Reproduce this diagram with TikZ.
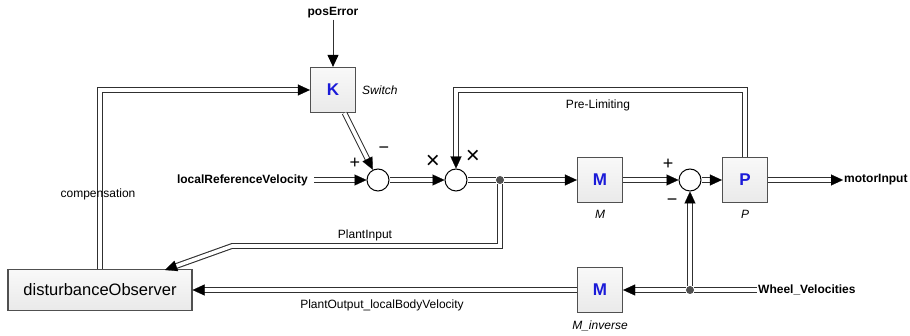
\documentclass[tikz,border=0pt]{standalone}
\usepackage{fontspec}
\setmainfont{Liberation Sans}
\usetikzlibrary{arrows.meta,calc}
\definecolor{lc}{HTML}{303030}
\definecolor{bc}{HTML}{505050}
\definecolor{kb}{HTML}{1A1AD8}
\tikzset{
  dl/.style={draw=lc, line width=1.1pt, double=white, double distance=3.6pt},
  tipl/.style={draw=white, line width=0.2pt, -{Triangle[length=12pt,width=11pt,color=black]}},
  sl/.style={draw=lc, line width=1pt, -{Triangle[length=12pt,width=11pt,color=black]}},
  blk/.style={draw=bc, line width=1.2pt, top color=gray!5, bottom color=gray!17, minimum width=45pt, minimum height=45pt, inner sep=0pt, font=\fontsize{17}{20}\selectfont\bfseries\color{kb}},
  dobox/.style={draw=bc, line width=1.2pt, top color=gray!5, bottom color=gray!17, minimum width=184pt, minimum height=41pt, inner sep=0pt, font=\fontsize{16.5}{20}\selectfont},
  sumc/.style={circle, draw=black, line width=1pt, fill=white, minimum size=22pt, inner sep=0pt},
  junc/.style={circle, fill=lc!85, minimum size=8pt, inner sep=0pt},
  lbl/.style={font=\fontsize{12}{14}\selectfont, inner sep=1pt},
  blbl/.style={font=\fontsize{12}{14}\selectfont\bfseries, inner sep=1pt},
  ilbl/.style={font=\fontsize{12}{14}\selectfont\itshape, inner sep=1pt},
  sgn/.style={font=\fontsize{18}{20}\selectfont, inner sep=0pt},
  xsgn/.style={font=\fontsize{24}{26}\selectfont, inner sep=0pt},
}
\newcommand\darr[1]{\draw[dl,shorten >=10pt]#1;\draw[tipl]#1;}
\begin{document}
\begin{tikzpicture}[x=1pt,y=-1pt]
\useasboundingbox (0,0) rectangle (910,336);
% nodes
\node[blbl] (pe) at (333,13) {posError};
\node[blk] (K) at (333,90) {K};
\node[ilbl, anchor=west] (sw) at (361,90) {Switch};
\node[sumc] (s1) at (378,180) {};
\node[sumc] (s2) at (456,180) {};
\node[junc] (j1) at (500,180) {};
\node[blk] (M) at (600,180) {M};
\node[ilbl] (Ml) at (600,214) {M};
\node[sumc] (s3) at (690,180) {};
\node[blk] (P) at (745,180) {P};
\node[ilbl] (Pl) at (745,214) {P};
\node[blbl, anchor=west] (mi) at (843,180) {motorInput};
\node[blbl, anchor=east] (lrv) at (309,180) {localReferenceVelocity};
\node[blk] (Mi) at (600,290) {M};
\node[ilbl] (Mil) at (600,326) {M\_inverse};
\node[junc] (j2) at (690,290) {};
\node[blbl, anchor=west] (wv) at (757,290) {Wheel\_Velocities};
\node[dobox] (DO) at (100,290) {disturbanceObserver};
% signs
\node[sgn] (p1) at (355,163) {+};
\node[sgn] (m1) at (384,150) {−};
\node[xsgn] (x1) at (433,162) {×};
\node[xsgn] (x2) at (473,157) {×};
\node[sgn] (p3) at (668,164) {+};
\node[sgn] (m3) at (672,202) {−};
% coordinates
\coordinate (kout) at ($(K.south)!0.5!(K.south east)$);
\coordinate (pltop) at (600,90);
\coordinate (pic) at (232,246);
\coordinate (doin) at (165,270);
% connectors
\draw[sl] (pe) -- (K);
\darr{(DO.north) |- (K.west)}
\darr{(kout) -- (s1)}
\darr{([xshift=5pt]lrv.east) -- (s1)}
\darr{(s1) -- (s2)}
\draw[dl] (s2) -- (j1);
\darr{(j1) -- (M)}
\darr{(M) -- (s3)}
\darr{(s3) -- (P)}
\darr{(P) -- (mi)}
\darr{(P.north) |- (pltop) -| (s2.north)}
\darr{(j1) |- (pic) -- (doin)}
\draw[dl] (wv) -- (j2);
\darr{(j2) -- (Mi)}
\darr{(j2) -- (s3)}
\darr{(Mi) -- (DO)}
% connector labels
\node[lbl] (lcomp) at (98,194) {compensation};
\node[lbl] (lpi) at (365,235) {PlantInput};
\node[lbl] (lpl) at (598,105) {Pre-Limiting};
\node[lbl] (lpo) at (382,305) {PlantOutput\_localBodyVelocity};
\end{tikzpicture}
\end{document}
